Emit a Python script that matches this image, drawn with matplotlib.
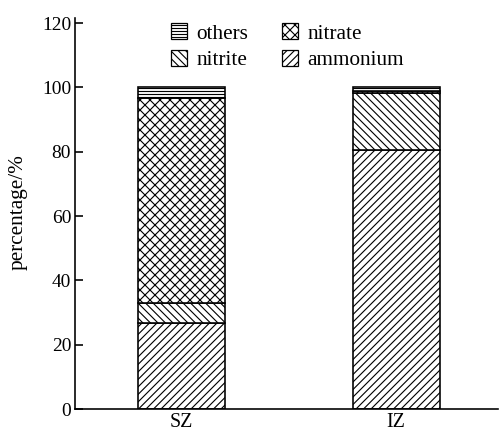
import matplotlib
matplotlib.use("Agg")
import matplotlib.pyplot as plt
from matplotlib.patches import Patch
import numpy as np

plt.rcParams['font.family'] = ['Liberation Serif', 'DejaVu Serif']
plt.rcParams['hatch.linewidth'] = 0.9

sites = ["SZ", "IZ"]
components = ["ammonium", "nitrite", "nitrate", "others"]
ammonium = [26.7, 80.4]
nitrite = [6.2, 17.9]
nitrate = [63.7, 0.7]
others = [3.4, 1.0]
hatches = {"ammonium": "////", "nitrite": "\\\\\\\\", "nitrate": "xxx", "others": "-----"}
values = {"ammonium": ammonium, "nitrite": nitrite, "nitrate": nitrate, "others": others}
yticks = [0, 20, 40, 60, 80, 100, 120]

DPI = 90
fig = plt.figure(figsize=(500 / DPI, 434 / DPI), dpi=DPI)
ax = fig.add_axes([0.15, 0.0576, 0.846, 0.901])

x = np.arange(len(sites))
bottom = np.zeros(len(sites))
for comp in components:
    v = np.array(values[comp])
    ax.bar(x, v, width=0.405, bottom=bottom, facecolor="white",
           edgecolor="black", linewidth=1.3, hatch=hatches[comp], zorder=2)
    bottom += v

ax.set_xlim(-0.4965, 1.475)
ax.set_ylim(0, 121.6)
ax.set_yticks(yticks)
ax.set_xticks(x)
ax.set_xticklabels(sites)
ax.tick_params(axis='y', direction='in', length=6, width=1.3, labelsize=15.5, pad=3)
ax.tick_params(axis='x', length=0, labelsize=16, pad=3)
for s in ['top', 'right']:
    ax.spines[s].set_visible(False)
for s in ['left', 'bottom']:
    ax.spines[s].set_linewidth(1.3)
ax.set_ylabel("percentage/%", fontsize=17)
ax.yaxis.set_label_coords(-0.112, 0.504)

order = ["others", "nitrite", "nitrate", "ammonium"]
handles = [Patch(facecolor="white", edgecolor="black", linewidth=1.0,
                 hatch=hatches[c], label=c) for c in order]
ax.legend(handles=handles, ncol=2, loc='upper center', bbox_to_anchor=(0.502, 1.035),
          frameon=False, fontsize=17, handlelength=0.75, handleheight=0.75,
          handletextpad=0.45, columnspacing=1.6, labelspacing=0.3)

fig.savefig("out.png", dpi=DPI)
